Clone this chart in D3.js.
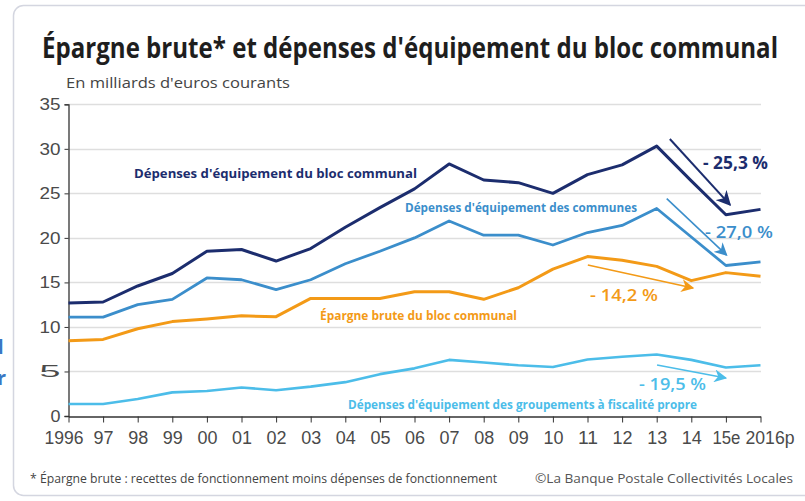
<!DOCTYPE html>
<html><head><meta charset="utf-8">
<script src="https://cdn.jsdelivr.net/npm/d3@7"></script>
<style>body{margin:0;background:#fff;}svg{display:block;font-family:"Open Sans","DejaVu Sans",sans-serif;}</style>
</head><body><svg id="c" width="805" height="501"></svg>
<script>
const years = ["1996","97","98","99","00","01","02","03","04","05","06","07","08","09","10","11","12","13","14","15e","2016p"];
const depBloc = [12.7,12.8,14.6,16.0,18.5,18.7,17.4,18.8,21.2,23.4,25.5,28.3,26.5,26.2,25.0,27.1,28.2,30.3,26.4,22.6,23.2];
const depCommunes = [11.1,11.1,12.5,13.1,15.5,15.3,14.2,15.3,17.1,18.5,20.0,21.9,20.3,20.3,19.2,20.6,21.4,23.3,20.1,16.9,17.3];
const epargne = [8.45,8.6,9.8,10.6,10.9,11.25,11.15,13.2,13.2,13.2,13.95,13.95,13.1,14.4,16.5,17.9,17.5,16.8,15.2,16.1,15.7];
const depGroupements = [1.35,1.35,1.9,2.65,2.8,3.2,2.9,3.3,3.8,4.7,5.35,6.3,6.0,5.7,5.5,6.35,6.65,6.9,6.3,5.45,5.7];
const yTicks = [0,5,10,15,20,25,30,35];
const seriesNames = ["Dépenses d'équipement du bloc communal","Dépenses d'équipement des communes","Épargne brute du bloc communal","Dépenses d'équipement des groupements à fiscalité propre"];
const changes = ["- 25,3 %","- 27,0 %","- 14,2 %","- 19,5 %"];
// arrows in data space: [fractional year index, value]
const arrowFrom = [[17.38,31.1],[17.29,24.4],[15.01,16.95],[17.01,5.73]];
const arrowTo = [[19.12,23.7],[19.02,18.07],[18.05,14.37],[19.0,4.27]];

const colors = ["#1c2d6e","#3b8ecb","#f39a17","#4cbde9"];
const svg = d3.select("#c");

// frame
svg.append("rect").attr("x",13.5).attr("y",5.5).attr("width",820).attr("height",490).attr("rx",10)
  .attr("fill","none").attr("stroke","#d4d6e0").attr("stroke-width",1.5);

const x = d3.scalePoint().domain(years).range([68.5,760.5]);
const xi = d3.scaleLinear().domain([0,years.length-1]).range(x.range());
const y = d3.scaleLinear().domain([0,35]).range([416,104.3]);

// gridlines
svg.append("g").selectAll("line").data(yTicks.filter(d=>d>0)).join("line")
  .attr("x1",68).attr("x2",761).attr("y1",d=>Math.round(y(d))+0.5).attr("y2",d=>Math.round(y(d))+0.5)
  .attr("stroke","#dedede").attr("stroke-width",1.3);

// y axis
const ya = svg.append("g").attr("transform","translate(68.5,0)")
  .call(d3.axisLeft(y).tickValues(yTicks).tickSize(4).tickPadding(6));
ya.select(".domain").attr("stroke","#333").attr("stroke-width",1.3);
ya.selectAll(".tick line").attr("stroke","#333");
ya.selectAll("text").attr("font-size",17).attr("fill","#4a4a4a").attr("x",-8)
  .attr("textLength",d=>d===0?10:21).attr("lengthAdjust","spacingAndGlyphs");

// x axis
const xa = svg.append("g").attr("transform","translate(0,416.5)")
  .call(d3.axisBottom(x).tickSize(6).tickPadding(9).tickSizeOuter(0));
xa.select(".domain").attr("stroke","#333").attr("stroke-width",1.3);
xa.selectAll(".tick line").attr("stroke","#333");
const tl = {"1996":39,"15e":28,"2016p":49};
const tdx = {"1996":-5,"15e":0,"2016p":9};
xa.selectAll("text").attr("font-size",17.5).attr("fill","#4a4a4a")
  .attr("textLength",d=>tl[d]||20).attr("lengthAdjust","spacingAndGlyphs")
  .attr("dx",d=>tdx[d]||0);

// lines
const allSeries = [depBloc, depCommunes, epargne, depGroupements];
const widths = [3,2.8,3,2.6];
const line = d3.line().x((d,i)=>x(years[i])).y(d=>y(d));
[3,2,1,0].forEach(k=>{
  svg.append("path").datum(allSeries[k]).attr("d",line).attr("fill","none")
    .attr("stroke",colors[k]).attr("stroke-width",widths[k]).attr("stroke-linejoin","round");
});

// arrows
const defs = svg.append("defs");
const mw=[15,13,13,13];
colors.forEach((c,i)=>{
  defs.append("marker").attr("id","ah"+i).attr("viewBox","0 0 10 10").attr("refX",9).attr("refY",5)
    .attr("markerWidth",mw[i]).attr("markerHeight",mw[i]).attr("markerUnits","userSpaceOnUse").attr("orient","auto")
    .append("path").attr("d","M0,0 L10,5 L0,10 L3,5 Z").attr("fill",c);
  svg.append("line").attr("x1",xi(arrowFrom[i][0])).attr("y1",y(arrowFrom[i][1]))
    .attr("x2",xi(arrowTo[i][0])).attr("y2",y(arrowTo[i][1]))
    .attr("stroke",c).attr("stroke-width",i===0?2:1.6).attr("marker-end","url(#ah"+i+")");
});

// series labels
const labPos = [[134,178],[405,212],[320,320],[348,409]];
const labLen = [283,232,197,349];
seriesNames.forEach((n,i)=>{
  svg.append("text").attr("x",labPos[i][0]).attr("y",labPos[i][1]).text(n)
    .attr("fill",colors[i]).attr("font-weight","bold").attr("font-size",12.5)
    .attr("textLength",labLen[i]).attr("lengthAdjust","spacingAndGlyphs");
});
// change labels
const chPos = [[703,169],[705,238],[590,301],[639,390]];
const chLen = [65,68,68,67];
changes.forEach((t,i)=>{
  svg.append("text").attr("x",chPos[i][0]).attr("y",chPos[i][1]).text(t)
    .attr("fill",colors[i]).attr("font-weight",i===0?"bold":"600").attr("font-size",17)
    .attr("textLength",chLen[i]).attr("lengthAdjust","spacingAndGlyphs");
});

// title
svg.append("text").attr("x",42).attr("y",58).text("Épargne brute* et dépenses d'équipement du bloc communal")
  .attr("font-size",29).attr("font-weight","bold").attr("fill","#1e1e1e")
  .attr("textLength",736).attr("lengthAdjust","spacingAndGlyphs");
svg.append("text").attr("x",66).attr("y",88).text("En milliards d'euros courants")
  .attr("font-size",15).attr("fill","#444").attr("textLength",224).attr("lengthAdjust","spacingAndGlyphs");

// footer
svg.append("text").attr("x",30).attr("y",483).text("* Épargne brute : recettes de fonctionnement moins dépenses de  fonctionnement")
  .attr("font-size",12).attr("fill","#444").attr("textLength",467).attr("lengthAdjust","spacingAndGlyphs");
svg.append("text").attr("x",535).attr("y",483).text("©La Banque Postale Collectivités Locales")
  .attr("font-size",13).attr("fill","#555").attr("textLength",258).attr("lengthAdjust","spacingAndGlyphs");

// left edge fragments
svg.append("text").attr("x",-9).attr("y",354).text("d").attr("font-size",20).attr("font-weight","bold").attr("fill","#3a78c4");
svg.append("text").attr("x",-3).attr("y",385).text("r").attr("font-size",20).attr("font-weight","bold").attr("fill","#3a78c4");
</script></body></html>
